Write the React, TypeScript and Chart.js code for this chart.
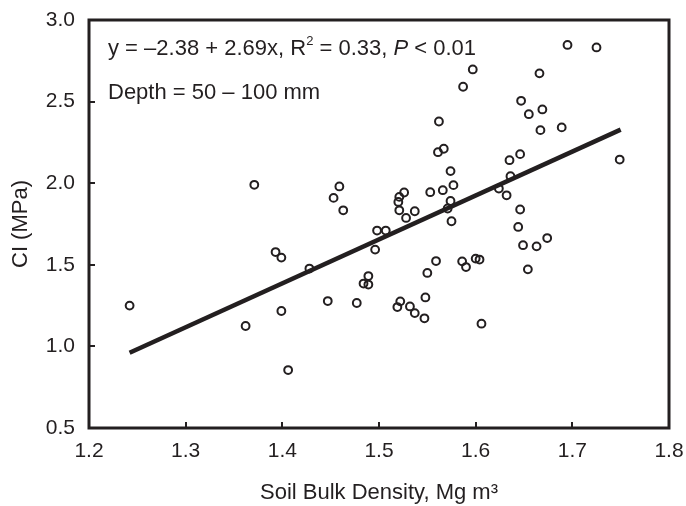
import React, { useEffect, useRef } from "react";
import { Chart, registerables } from "chart.js";

Chart.register(...registerables);

// Soil bulk density (Mg m^-3)
const bulkDensity = [
  1.242, 1.362, 1.371, 1.393, 1.399, 1.399, 1.406, 1.428, 1.447, 1.453,
  1.459, 1.463, 1.477, 1.484, 1.489, 1.489, 1.496, 1.498, 1.507, 1.519,
  1.522, 1.52, 1.521, 1.521, 1.526, 1.528, 1.537, 1.532, 1.537, 1.547,
  1.548, 1.55, 1.553, 1.559, 1.562, 1.561, 1.567, 1.566, 1.574, 1.577,
  1.574, 1.571, 1.575, 1.586, 1.59, 1.6, 1.604, 1.606, 1.587, 1.597,
  1.624, 1.632, 1.635, 1.636, 1.646, 1.646, 1.644, 1.649, 1.654, 1.663,
  1.674, 1.647, 1.655, 1.669, 1.667, 1.666, 1.689, 1.695, 1.725, 1.749,
];
// Cone index (MPa)
const coneIndex = [
  1.25, 1.125, 1.99, 1.578, 1.544, 1.217, 0.855, 1.477, 1.278, 1.91,
  1.98, 1.834, 1.266, 1.385, 1.431, 1.379, 1.593, 1.71, 1.71, 1.241,
  1.276, 1.885, 1.916, 1.834, 1.943, 1.787, 1.828, 1.245, 1.204, 1.172,
  1.3, 1.45, 1.945, 1.523, 2.378, 2.19, 2.211, 1.957, 2.074, 1.988,
  1.891, 1.845, 1.767, 1.521, 1.486, 1.538, 1.532, 1.139, 2.591, 2.697,
  1.967, 1.926, 2.141, 2.043, 2.178, 1.839, 1.732, 1.62, 1.472, 1.613,
  1.664, 2.505, 2.423, 2.452, 2.325, 2.673, 2.342, 2.847, 2.832, 2.145,
];
// Regression line end points (as drawn)
const fitX = [1.242, 1.75];
const fitY = [0.961, 2.328];

const xTicks = [1.2, 1.3, 1.4, 1.5, 1.6, 1.7, 1.8];
const yTicks = [0.5, 1.0, 1.5, 2.0, 2.5, 3.0];

const INK = "#231f20";
const FONT = '"Liberation Sans", Arial, Helvetica, sans-serif';

const zeroPad = (s: any) => {
  s.paddingTop = 0;
  s.paddingBottom = 0;
  s.paddingLeft = 0;
  s.paddingRight = 0;
};

const framePlugin = {
  id: "frame",
  afterDatasetsDraw(chart: any) {
    const { ctx, chartArea } = chart;
    const { left, right, top, bottom } = chartArea;
    const xs = chart.scales.x;
    const ys = chart.scales.y;
    ctx.save();
    ctx.strokeStyle = INK;
    ctx.lineWidth = 2;
    ctx.beginPath();
    xTicks.forEach((v) => {
      const px = Math.round(xs.getPixelForValue(v));
      ctx.moveTo(px, bottom);
      ctx.lineTo(px, bottom - 6);
    });
    yTicks.forEach((v) => {
      const py = Math.round(ys.getPixelForValue(v));
      ctx.moveTo(left, py);
      ctx.lineTo(left + 6, py);
    });
    ctx.stroke();
    ctx.lineWidth = 3;
    ctx.strokeRect(left, top, right - left, bottom - top);
    ctx.restore();
  },
  afterDraw(chart: any) {
    const { ctx, chartArea } = chart;
    ctx.save();
    ctx.fillStyle = INK;
    ctx.textBaseline = "middle";
    ctx.textAlign = "left";
    const normal = `22px ${FONT}`;
    const small = `13px ${FONT}`;
    const italic = `italic 22px ${FONT}`;
    let x = chartArea.left + 19;
    const y1 = chartArea.top + 29;
    const parts = [
      { t: "y = \u20132.38 + 2.69x, R", f: normal, dy: 0 },
      { t: "2", f: small, dy: -8 },
      { t: " = 0.33, ", f: normal, dy: 0 },
      { t: "P", f: italic, dy: 0 },
      { t: " < 0.01", f: normal, dy: 0 },
    ];
    parts.forEach((p) => {
      ctx.font = p.f;
      ctx.fillText(p.t, x, y1 + p.dy);
      x += ctx.measureText(p.t).width;
    });
    ctx.font = normal;
    ctx.fillText("Depth = 50 \u2013 100 mm", chartArea.left + 19, chartArea.top + 73);
    ctx.restore();
  },
};

export default function App() {
  const canvasRef = useRef<HTMLCanvasElement | null>(null);

  useEffect(() => {
    document.body.style.margin = "0";
    const canvas = canvasRef.current;
    if (!canvas) return;
    const chart = new Chart(canvas, {
      type: "scatter",
      data: {
        datasets: [
          {
            type: "scatter",
            label: "CI",
            data: bulkDensity.map((v, i) => ({ x: v, y: coneIndex[i] })),
            pointRadius: 3.9,
            pointBorderWidth: 2,
            pointBorderColor: INK,
            pointBackgroundColor: "rgba(255,255,255,0)",
            pointHoverRadius: 3.9,
            order: 0,
          },
          {
            type: "line",
            label: "fit",
            data: fitX.map((v, i) => ({ x: v, y: fitY[i] })),
            borderColor: INK,
            borderWidth: 4.5,
            borderCapStyle: "butt",
            pointRadius: 0,
            fill: false,
            order: 1,
          } as any,
        ],
      },
      options: {
        responsive: false,
        animation: false,
        devicePixelRatio: 1,
        layout: { padding: { left: 0, right: 17, top: 20, bottom: 0 } },
        plugins: {
          legend: { display: false },
          tooltip: { enabled: false },
          title: { display: false },
        },
        scales: {
          x: {
            type: "linear",
            min: 1.2,
            max: 1.8,
            afterBuildTicks: (s: any) => {
              s.ticks = xTicks.map((v) => ({ value: v }));
            },
            afterFit: (s: any) => {
              s.height = 78;
              zeroPad(s);
            },
            grid: { display: false, drawTicks: false },
            border: { display: false },
            ticks: {
              padding: 11,
              color: INK,
              font: { family: FONT, size: 21 },
              maxRotation: 0,
              autoSkip: false,
              callback: (v: any) => Number(v).toFixed(1),
            },
            title: {
              display: true,
              text: "Soil Bulk Density, Mg m\u00B3",
              color: INK,
              font: { family: FONT, size: 22 },
              padding: { top: 0, bottom: 0 },
            },
          },
          y: {
            type: "linear",
            min: 0.5,
            max: 3.0,
            afterBuildTicks: (s: any) => {
              s.ticks = yTicks.map((v) => ({ value: v }));
            },
            afterFit: (s: any) => {
              s.width = 89;
              zeroPad(s);
            },
            grid: { display: false, drawTicks: false },
            border: { display: false },
            ticks: {
              padding: 14,
              color: INK,
              font: { family: FONT, size: 21 },
              autoSkip: false,
              callback: (v: any) => Number(v).toFixed(1),
            },
            title: {
              display: true,
              text: "CI (MPa)",
              color: INK,
              font: { family: FONT, size: 22 },
              padding: { top: 8, bottom: 0 },
            },
          },
        },
      },
      plugins: [framePlugin],
    });
    return () => chart.destroy();
  }, []);

  return (
    <div style={{ width: 686, height: 506, background: "#fff" }}>
      <canvas ref={canvasRef} width={686} height={506} style={{ display: "block" }} />
    </div>
  );
}
